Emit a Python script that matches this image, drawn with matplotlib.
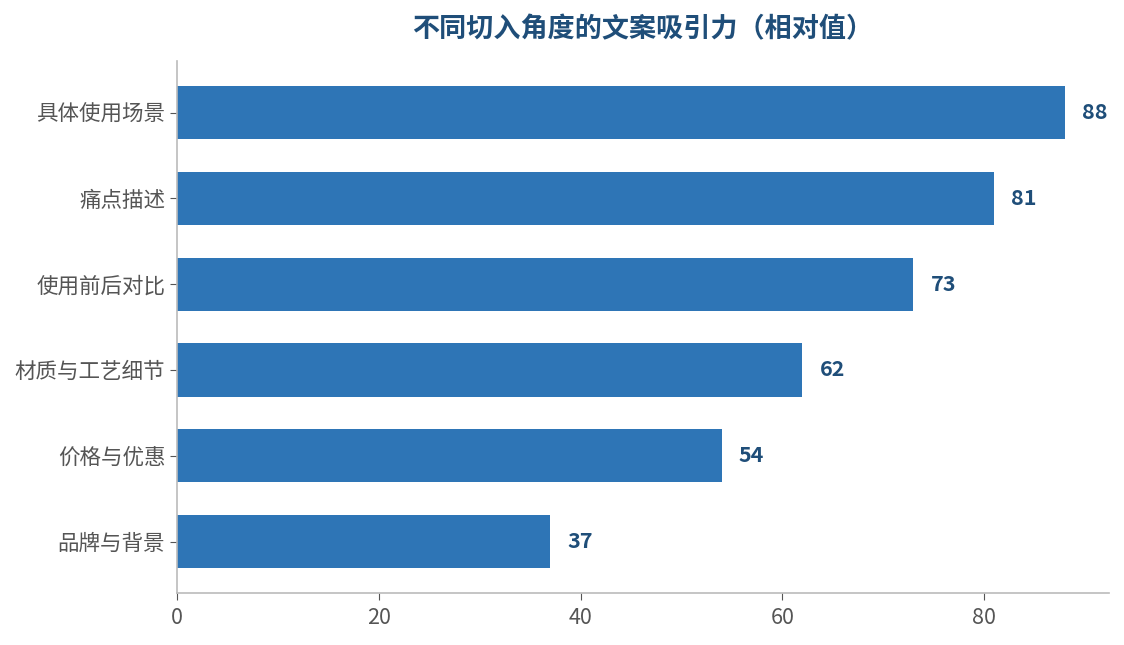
import matplotlib
matplotlib.use('Agg')
import matplotlib.pyplot as plt

plt.rcParams['font.family'] = ['Noto Sans CJK SC', 'DejaVu Sans']

# data (top to bottom as shown)
categories = ['具体使用场景', '痛点描述', '使用前后对比', '材质与工艺细节', '价格与优惠', '品牌与背景']
values = [88, 81, 73, 62, 54, 37]
title = '不同切入角度的文案吸引力（相对值）'

barcolor = '#2E75B6'
textcolor = '#1F4E79'
gray = '#555555'

fig = plt.figure(figsize=(11.24, 6.45), dpi=100)
ax = fig.add_axes([0.1575, 0.0806, 0.8292, 0.8248])

ypos = list(range(len(categories)))[::-1]
ax.barh(ypos, values, height=0.62, color=barcolor)
for y, v in zip(ypos, values):
    ax.text(v + 1.7, y, str(v), ha='left', va='center',
            fontsize=15.5, fontweight='bold', color=textcolor)

ax.set_yticks(ypos)
ax.set_yticklabels(categories)
ax.set_xlim(0, 92.4)
ax.set_ylim(-0.6, 5.6)
ax.set_xticks([0, 20, 40, 60, 80])

for side in ['top', 'right']:
    ax.spines[side].set_visible(False)
for side in ['left', 'bottom']:
    ax.spines[side].set_color('#bbbbbb')
    ax.spines[side].set_linewidth(1.2)
ax.tick_params(axis='both', colors=gray, labelsize=15.5, length=5)
ax.tick_params(axis='x', pad=5)

ax.set_title(title, fontsize=19.5, fontweight='bold', color=textcolor, pad=17)

fig.savefig('out.png', dpi=100)
